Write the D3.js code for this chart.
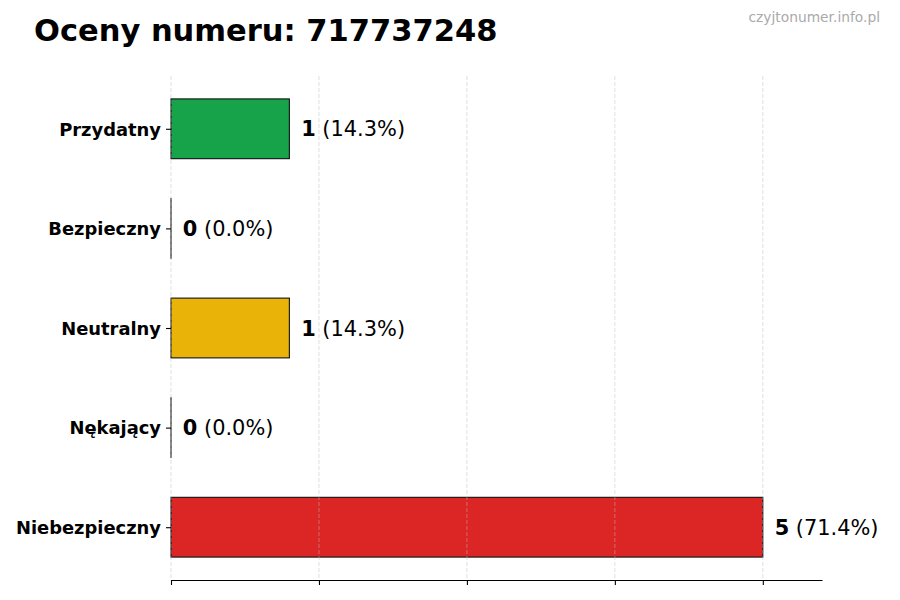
<!DOCTYPE html>
<html><head><meta charset="utf-8">
<script src="https://cdn.jsdelivr.net/npm/d3@7"></script>
<style>body{margin:0;background:#fff}svg{display:block}text{font-family:"DejaVu Sans",sans-serif}</style>
</head><body>
<svg id="c" width="900" height="600"></svg>
<script>
const categories = ["Przydatny","Bezpieczny","Neutralny","Nękający","Niebezpieczny"];
const values = [1,0,1,0,5];
const percents = ["14.3%","0.0%","14.3%","0.0%","71.4%"];
const colors = ["#16a34a","#3b82f6","#eab308","#f97316","#dc2626"];
const xTicks = [0,1.25,2.5,3.75,5];
const title = "Oceny numeru: 717737248";
const watermark = "czyjtonumer.info.pl";

(function(){
const svg = d3.select("#c");
const mL = 171, mR = 822, mT = 76, mB = 580;
const x = d3.scaleLinear().domain([0, d3.max(values)*1.1]).range([mL, mR]);
const y = d3.scaleLinear().domain([-0.53, 4.53]).range([mT, mB]);
const barH = 0.6;

// bars
svg.append("g").selectAll("rect").data(values).join("rect")
  .attr("x", x(0))
  .attr("y", (d,i)=>y(i - barH/2))
  .attr("width", d=>Math.max(x(d)-x(0), 0.01))
  .attr("height", y(barH)-y(0))
  .attr("fill", (d,i)=>colors[i])
  .attr("stroke", "#111")
  .attr("stroke-width", 1.1);

// grid
svg.append("g").selectAll("line").data(xTicks).join("line")
  .attr("x1", d=>x(d)).attr("x2", d=>x(d))
  .attr("y1", mT).attr("y2", mB)
  .attr("stroke", "#bbb").attr("stroke-opacity", 0.6)
  .attr("stroke-width", 0.8).attr("stroke-dasharray", "4,2");

// x axis
const xAxis = d3.axisBottom(x).tickValues(xTicks).tickFormat("").tickSize(5).tickSizeOuter(0);
const gx = svg.append("g").attr("transform", `translate(0,${mB})`).call(xAxis);
gx.select(".domain").attr("stroke", "#000").attr("stroke-width", 1.1);
gx.selectAll(".tick line").attr("stroke", "#000").attr("stroke-width", 1.1);

// y ticks and labels
const yAxis = d3.axisLeft(y).tickValues(d3.range(categories.length)).tickFormat(i=>categories[i]).tickSize(5).tickPadding(5);
const gy = svg.append("g").attr("transform", `translate(${mL},0)`).call(yAxis);
gy.select(".domain").remove();
gy.selectAll(".tick line").attr("stroke", "#000").attr("stroke-width", 1.1);
gy.selectAll(".tick text").attr("font-family", "DejaVu Sans").attr("font-size", 17.9)
  .attr("font-weight", "bold").attr("fill", "#000").attr("dy", "0.35em");

// value labels
const lab = svg.append("g").selectAll("text").data(values).join("text")
  .attr("x", d=>x(d + 0.1))
  .attr("y", (d,i)=>y(i))
  .attr("dy", "0.36em")
  .attr("font-size", 20.9).attr("fill", "#000");
lab.append("tspan").attr("font-weight", "bold").text(d=>d);
lab.append("tspan").text((d,i)=>" (" + percents[i] + ")");

// title
svg.append("text").attr("x", 34).attr("y", 41).attr("font-size", 30.5)
  .attr("font-weight", "bold").attr("fill", "#000").text(title);
svg.append("text").attr("x", 880).attr("y", 22).attr("text-anchor", "end")
  .attr("font-size", 13.8).attr("fill", "#aaa").text(watermark);
})();
</script>
</body></html>
